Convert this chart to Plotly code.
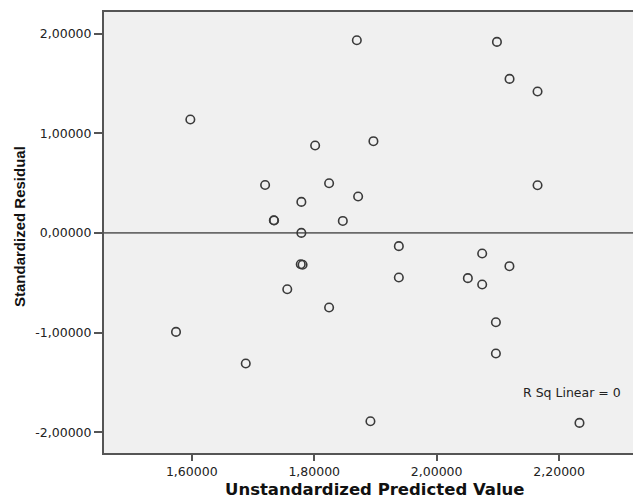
import plotly.graph_objects as go

# Unstandardized predicted values (x) and standardized residuals (y)
predicted = [1.5977, 1.5743, 1.6882, 1.7198, 1.7340, 1.7345, 1.7560, 1.7790, 1.7790,
             1.7780, 1.7810, 1.8015, 1.8243, 1.8243, 1.8467, 1.8696, 1.8717, 1.8967,
             1.8918, 1.9382, 1.9382, 2.0509, 2.0743, 2.0743, 2.0984, 2.1190, 2.1188,
             2.0967, 2.0967, 2.1647, 2.1647, 2.2332]
residual = [1.138, -0.993, -1.310, 0.481, 0.127, 0.124, -0.565, 0.311, 0.000,
            -0.315, -0.320, 0.877, 0.498, -0.748, 0.120, 1.933, 0.365, 0.920,
            -1.889, -0.133, -0.447, -0.454, -0.207, -0.518, 1.916, 1.545, -0.334,
            -0.896, -1.210, 1.418, 0.478, -1.906]

x_tickvals = [1.6, 1.8, 2.0, 2.2]
x_ticktext = ["1,60000", "1,80000", "2,00000", "2,20000"]
y_tickvals = [-2, -1, 0, 1, 2]
y_ticktext = ["-2,00000", "-1,00000", "0,00000", "1,00000", "2,00000"]

x_title = "Unstandardized Predicted Value"
y_title = "Standardized Residual"
fit_label = "R Sq Linear = 0"

fig = go.Figure()
fig.add_trace(go.Scatter(
    x=predicted, y=residual, mode="markers",
    marker=dict(symbol="circle-open", size=8.5, color="#3a3a3a",
                line=dict(width=1.6, color="#3a3a3a")),
    showlegend=False, hoverinfo="x+y"))

fig.add_shape(type="line", xref="paper", x0=0, x1=1, yref="y", y0=0, y1=0,
              line=dict(color="#6a6a6a", width=1.6), layer="below")

axis_font = dict(family="DejaVu Sans, Arial, sans-serif", size=12.5, color="#222222")

fig.update_layout(
    width=633, height=498,
    margin=dict(l=104, r=0, t=12, b=45),
    paper_bgcolor="white", plot_bgcolor="#f0f0f0",
    xaxis=dict(range=[1.4567, 2.3206], tickvals=x_tickvals, ticktext=x_ticktext,
               showgrid=False, zeroline=False, showline=True, mirror=True,
               linecolor="#555555", linewidth=2, ticks="outside", ticklen=6,
               tickcolor="#555555", tickwidth=1.5, tickfont=axis_font),
    yaxis=dict(range=[-2.208, 2.216], tickvals=y_tickvals, ticktext=y_ticktext,
               showgrid=False, zeroline=False, showline=True, mirror=False,
               linecolor="#555555", linewidth=2, ticks="outside", ticklen=8,
               tickcolor="#555555", tickwidth=1.5, tickfont=axis_font),
    annotations=[
        dict(text="<b>" + x_title + "</b>", xref="paper", yref="paper",
             x=(375 - 104) / 529, y=-(489 - 453) / 441, xanchor="center", yanchor="middle",
             showarrow=False,
             font=dict(family="DejaVu Sans, Arial, sans-serif", size=16.5, color="#111111")),
        dict(text="<b>" + y_title + "</b>", xref="paper", yref="paper",
             x=(20 - 104) / 529, y=(453 - 227) / 441, xanchor="center", yanchor="middle",
             textangle=-90, showarrow=False,
             font=dict(family="Liberation Sans Narrow, Arial Narrow, Arial, sans-serif",
                       size=15, color="#111111")),
        dict(text=fit_label, xref="paper", yref="paper",
             x=(572 - 104) / 529, y=(453 - 392) / 441, xanchor="center", yanchor="middle",
             showarrow=False, font=axis_font),
    ],
)

fig.write_html("out.html", config={"displayModeBar": False},
               post_script="document.body.style.margin='0';document.body.style.overflow='hidden';")
